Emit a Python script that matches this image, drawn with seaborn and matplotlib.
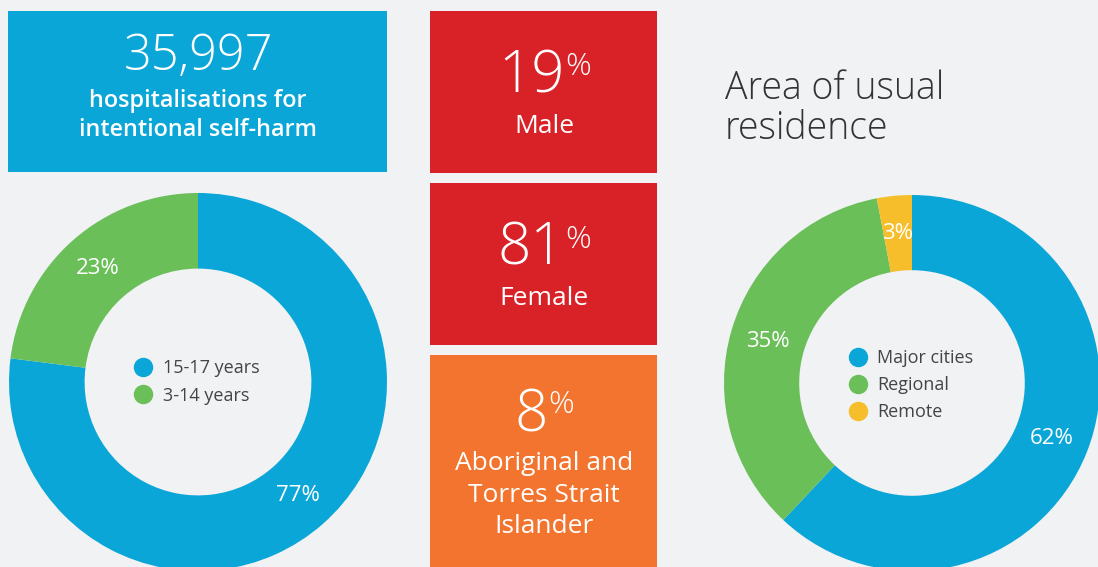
import matplotlib
matplotlib.use("Agg")
import matplotlib.pyplot as plt
from matplotlib.patches import Rectangle
from matplotlib.lines import Line2D
import seaborn as sns

sns.set_theme(style="white")
plt.rcParams['font.family'] = ['Open Sans', 'DejaVu Sans']

# data
total_hosp = 35997
age_labels = ['15-17 years', '3-14 years']
age_values = [77, 23]
area_labels = ['Major cities', 'Regional', 'Remote']
area_values = [62, 35, 3]
sex_labels = ['Male', 'Female']
sex_values = [19, 81]
indig_label = ['Aboriginal and', 'Torres Strait', 'Islander']
indig_value = 8

BG = '#f1f2f4'
BLUE = '#0ba6d8'
GREEN = '#6bbf59'
YELLOW = '#f6be2a'
RED = '#d92128'
ORANGE = '#f2742e'

W, H = 1098, 567
fig = plt.figure(figsize=(W / 100, H / 100), dpi=100, facecolor=BG)


def fx(x):
    return x / W


def fy(y):
    return 1 - y / H


def box(x0, y0, x1, y1, color):
    fig.add_artist(Rectangle((fx(x0), fy(y1)), (x1 - x0) / W, (y1 - y0) / H,
                             transform=fig.transFigure, color=color, lw=0))


def txt(x, y, s, size, weight='normal', color='white', ha='center'):
    return fig.text(fx(x), fy(y), s, fontsize=size, fontweight=weight,
                    color=color, ha=ha, va='baseline')


renderer = fig.canvas.get_renderer()


def big_pct(cx, base, pbase, value):
    t1 = txt(0, base, str(value), 42, 'light', ha='left')
    t2 = txt(0, pbase, '%', 23, 'light', ha='left')
    w1 = t1.get_window_extent(renderer).width
    w2 = t2.get_window_extent(renderer).width
    x0 = cx - (w1 + w2) / 2
    t1.set_x(fx(x0))
    t2.set_x(fx(x0 + w1 + 0.5))


# top-left box
box(8, 11, 387, 172, BLUE)
txt(198, 70, f'{total_hosp:,}', 35, 'light')
txt(198, 107, 'hospitalisations for', 16.8, 'semibold')
txt(198, 136, 'intentional self-harm', 16.8, 'semibold')

# middle boxes
box(430, 11, 657, 173, RED)
box(430, 183, 657, 345, RED)
box(430, 355, 657, 580, ORANGE)
cx = 544
big_pct(cx, 93, 75, sex_values[0])
txt(cx, 133, sex_labels[0], 19)
big_pct(cx, 265, 248, sex_values[1])
txt(cx, 305, sex_labels[1], 19)
big_pct(cx, 431, 413, indig_value)
for line, b in zip(indig_label, [470, 502, 533]):
    txt(cx, b, line, 19)

# title
txt(725, 99, 'Area of usual', 27, 'light', color='#333333', ha='left')
txt(725, 139, 'residence', 27, 'light', color='#333333', ha='left')


def donut(cx, cy, r, values, labels, colors, leg_anchor):
    ax = fig.add_axes([(cx - r) / W, (H - cy - r) / H, 2 * r / W, 2 * r / H])
    ax.pie(values, colors=colors, startangle=90, counterclock=False,
           radius=1, wedgeprops=dict(width=0.4, linewidth=0),
           autopct='%.0f%%', pctdistance=0.8,
           textprops=dict(color='white', fontsize=16))
    ax.set_xlim(-1, 1)
    ax.set_ylim(-1, 1)
    ax.set_aspect('auto')
    ax.axis('off')
    handles = [Line2D([], [], marker='o', ls='', markersize=13, color=c)
               for c in colors]
    ax.legend(handles, labels, loc='center', bbox_to_anchor=leg_anchor,
              frameon=False, fontsize=13, labelcolor='#444444',
              handletextpad=0.5, labelspacing=0.5, handlelength=1.2)
    return ax


donut(198, 382, 189, age_values, age_labels, [BLUE, GREEN], (0.495, 0.50))
donut(912, 383, 188, area_values, area_labels, [BLUE, GREEN, YELLOW], (0.495, 0.495))

fig.savefig('out.png', dpi=100, facecolor=BG)
